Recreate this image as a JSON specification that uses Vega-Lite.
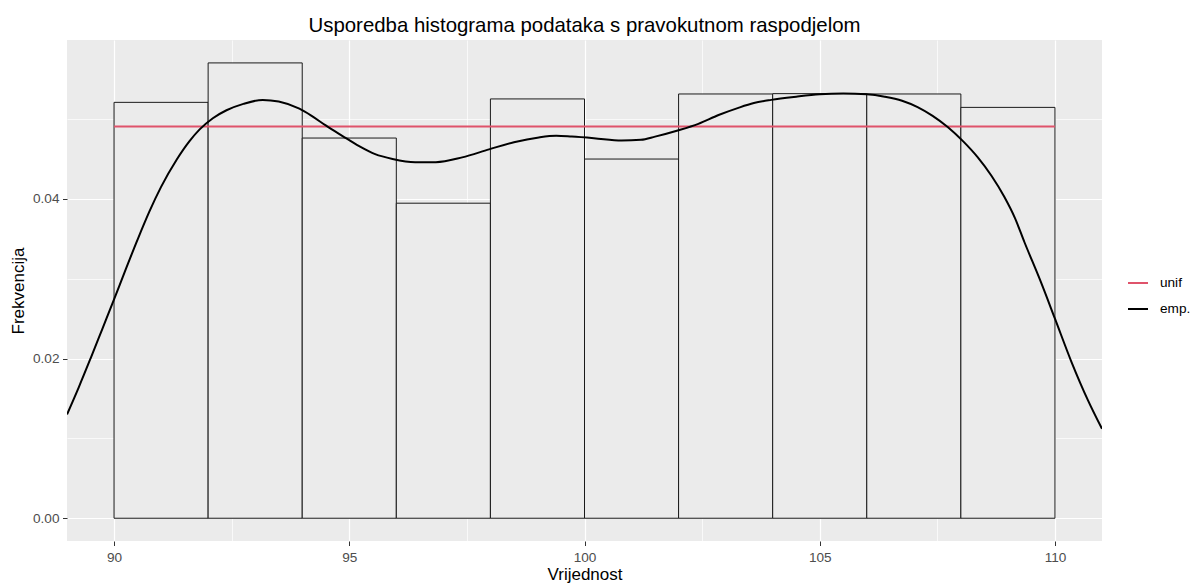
{
  "$schema": "https://vega.github.io/schema/vega-lite/v6.json",
  "width": 1035,
  "height": 501,
  "autosize": {"type": "none"},
  "padding": {"left": 67, "top": 40, "right": 96, "bottom": 44},
  "background": "white",
  "title": {"text": "Usporedba histograma podataka s pravokutnom raspodjelom", "font": "Liberation Sans", "fontSize": 20.4, "fontWeight": "normal", "color": "black", "anchor": "middle", "frame": "group", "baseline": "alphabetic", "offset": 12, "dy": 24},
  "datasets": {
    "bars": [
      {"start": 90, "end": 92, "density": 0.05209},
      {"start": 92, "end": 94, "density": 0.05703},
      {"start": 94, "end": 96, "density": 0.04762},
      {"start": 96, "end": 98, "density": 0.03946},
      {"start": 98, "end": 100, "density": 0.05252},
      {"start": 100, "end": 102, "density": 0.04499},
      {"start": 102, "end": 104, "density": 0.05314},
      {"start": 104, "end": 106, "density": 0.05318},
      {"start": 106, "end": 108, "density": 0.05314},
      {"start": 108, "end": 110, "density": 0.05146}
    ],
    "lines": [
      {"x": 90, "y": 0.04908, "series": "unif"},
      {"x": 110, "y": 0.04908, "series": "unif"},
      {"x": 89.0, "y": 0.0130, "series": "emp."},
      {"x": 89.25, "y": 0.0164, "series": "emp."},
      {"x": 89.5, "y": 0.0200, "series": "emp."},
      {"x": 89.75, "y": 0.0237, "series": "emp."},
      {"x": 90.0, "y": 0.0274, "series": "emp."},
      {"x": 90.25, "y": 0.0312, "series": "emp."},
      {"x": 90.5, "y": 0.0349, "series": "emp."},
      {"x": 90.75, "y": 0.0384, "series": "emp."},
      {"x": 91.0, "y": 0.0415, "series": "emp."},
      {"x": 91.33, "y": 0.0449, "series": "emp."},
      {"x": 91.6, "y": 0.0472, "series": "emp."},
      {"x": 91.82, "y": 0.0487, "series": "emp."},
      {"x": 92.1, "y": 0.0501, "series": "emp."},
      {"x": 92.39, "y": 0.0511, "series": "emp."},
      {"x": 92.75, "y": 0.0519, "series": "emp."},
      {"x": 93.16, "y": 0.0524, "series": "emp."},
      {"x": 93.5, "y": 0.0522, "series": "emp."},
      {"x": 93.94, "y": 0.0513, "series": "emp."},
      {"x": 94.2, "y": 0.0504, "series": "emp."},
      {"x": 94.5, "y": 0.0492, "series": "emp."},
      {"x": 94.85, "y": 0.0479, "series": "emp."},
      {"x": 95.21, "y": 0.0466, "series": "emp."},
      {"x": 95.55, "y": 0.0456, "series": "emp."},
      {"x": 95.92, "y": 0.0450, "series": "emp."},
      {"x": 96.4, "y": 0.0446, "series": "emp."},
      {"x": 96.84, "y": 0.0446, "series": "emp."},
      {"x": 97.4, "y": 0.0452, "series": "emp."},
      {"x": 97.97, "y": 0.0462, "series": "emp."},
      {"x": 98.5, "y": 0.0471, "series": "emp."},
      {"x": 99.03, "y": 0.0477, "series": "emp."},
      {"x": 99.4, "y": 0.0479, "series": "emp."},
      {"x": 99.73, "y": 0.0478, "series": "emp."},
      {"x": 100.2, "y": 0.0476, "series": "emp."},
      {"x": 100.79, "y": 0.0473, "series": "emp."},
      {"x": 101.2, "y": 0.0474, "series": "emp."},
      {"x": 101.5, "y": 0.0478, "series": "emp."},
      {"x": 102.0, "y": 0.0486, "series": "emp."},
      {"x": 102.42, "y": 0.0494, "series": "emp."},
      {"x": 102.85, "y": 0.0505, "series": "emp."},
      {"x": 103.27, "y": 0.0514, "series": "emp."},
      {"x": 103.6, "y": 0.0520, "series": "emp."},
      {"x": 103.97, "y": 0.0524, "series": "emp."},
      {"x": 104.5, "y": 0.0528, "series": "emp."},
      {"x": 105.0, "y": 0.0531, "series": "emp."},
      {"x": 105.5, "y": 0.0532, "series": "emp."},
      {"x": 106.0, "y": 0.0531, "series": "emp."},
      {"x": 106.38, "y": 0.0528, "series": "emp."},
      {"x": 106.75, "y": 0.0523, "series": "emp."},
      {"x": 107.08, "y": 0.0515, "series": "emp."},
      {"x": 107.4, "y": 0.0504, "series": "emp."},
      {"x": 107.72, "y": 0.0490, "series": "emp."},
      {"x": 108.05, "y": 0.0472, "series": "emp."},
      {"x": 108.36, "y": 0.0452, "series": "emp."},
      {"x": 108.65, "y": 0.0429, "series": "emp."},
      {"x": 108.92, "y": 0.0403, "series": "emp."},
      {"x": 109.15, "y": 0.0376, "series": "emp."},
      {"x": 109.35, "y": 0.0346, "series": "emp."},
      {"x": 109.7, "y": 0.0296, "series": "emp."},
      {"x": 110.0, "y": 0.0250, "series": "emp."},
      {"x": 110.35, "y": 0.0196, "series": "emp."},
      {"x": 110.7, "y": 0.0148, "series": "emp."},
      {"x": 111.0, "y": 0.0112, "series": "emp."}
    ]
  },
  "layer": [
    {
      "data": {"name": "bars"},
      "mark": {"type": "rect", "fill": "#EBEBEB", "stroke": "#1a1a1a", "strokeWidth": 1},
      "encoding": {
        "x": {"field": "start", "type": "quantitative", "scale": {"domain": [89, 111], "nice": false, "zero": false},
          "axis": {"title": "Vrijednost", "values": [90, 92.5, 95, 97.5, 100, 102.5, 105, 107.5, 110],
            "labelExpr": "datum.value % 5 === 0 ? datum.label : ''",
            "tickOpacity": {"condition": {"test": "datum.value % 5 !== 0", "value": 0}, "value": 1},
            "gridWidth": {"condition": {"test": "datum.value % 5 !== 0", "value": 0.7}, "value": 1.2},
            "labelPadding": 5, "titlePadding": 2}},
        "x2": {"field": "end"},
        "y": {"field": "density", "type": "quantitative", "scale": {"domain": [-0.00285, 0.0599], "nice": false, "zero": false},
          "axis": {"title": "Frekvencija", "values": [0, 0.01, 0.02, 0.03, 0.04, 0.05], "format": ".2f",
            "labelExpr": "round(datum.value * 100) % 2 === 0 ? datum.label : ''",
            "tickOpacity": {"condition": {"test": "round(datum.value * 100) % 2 !== 0", "value": 0}, "value": 1},
            "gridWidth": {"condition": {"test": "round(datum.value * 100) % 2 !== 0", "value": 0.7}, "value": 1.2},
            "labelPadding": 3.5, "titlePadding": 5}},
        "y2": {"datum": 0}
      }
    },
    {
      "data": {"name": "lines"},
      "mark": {"type": "line", "strokeWidth": 2, "clip": true, "interpolate": "monotone"},
      "encoding": {
        "x": {"field": "x", "type": "quantitative"},
        "y": {"field": "y", "type": "quantitative"},
        "color": {"field": "series", "type": "nominal", "sort": ["unif", "emp."],
          "scale": {"domain": ["unif", "emp."], "range": ["#DF536B", "black"]},
          "legend": {"title": null, "orient": "none", "legendX": 1060, "legendY": 232, "padding": 0,
            "symbolType": "stroke", "symbolSize": 400, "symbolStrokeWidth": 2, "rowPadding": 8,
            "labelOffset": 11, "labelFontSize": 13.6, "labelFont": "Liberation Sans", "labelColor": "black"}}
      }
    }
  ],
  "config": {
    "view": {"fill": "#EBEBEB", "stroke": null},
    "axis": {"domain": false, "gridColor": "white", "tickColor": "#333333", "tickSize": 4.5, "tickWidth": 1,
      "labelFont": "Liberation Sans", "labelFontSize": 13.6, "labelColor": "#4D4D4D",
      "titleFont": "Liberation Sans", "titleFontSize": 17, "titleFontWeight": "normal", "titleColor": "black"}
  }
}
